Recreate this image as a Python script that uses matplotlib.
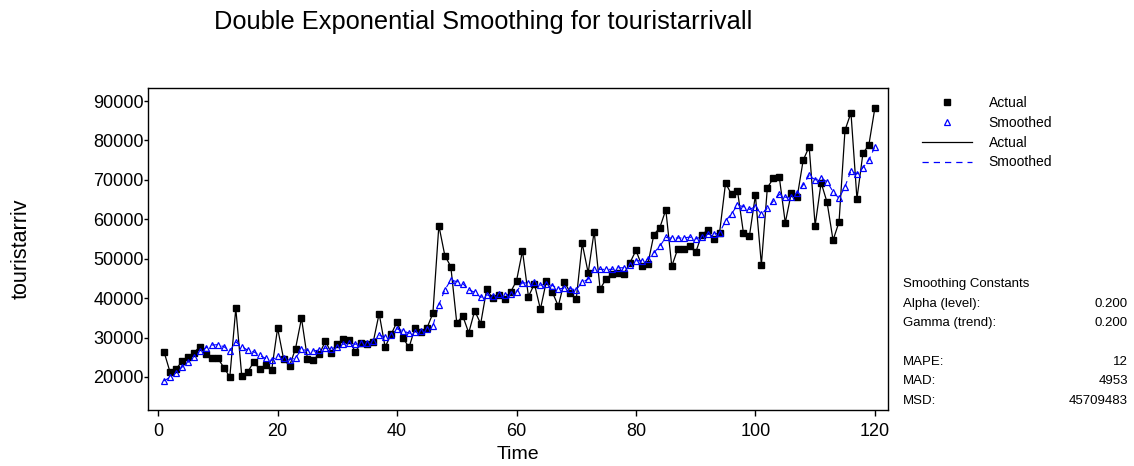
import matplotlib
matplotlib.use("Agg")
import matplotlib.pyplot as plt
from matplotlib.lines import Line2D

plt.rcParams['font.family'] = ['Liberation Sans', 'DejaVu Sans']

# values
time = list(range(1, 121))

actual = [
    26300, 21200, 22000, 24000, 25000, 26200, 27700, 25800, 24900, 24700,
    22400, 20000, 37400, 20200, 21300, 23800, 22000, 23000, 21700, 32400,
    24600, 22800, 27200, 34900, 24600, 24400, 25800, 29100, 26100, 28400,
    29600, 29300, 26400, 28500, 28300, 28800, 36100, 27600, 30800, 34000,
    29900, 27500, 32400, 31350, 32400, 36150, 58400, 50800, 48000, 33700,
    35500, 31200, 36800, 33500, 42200, 40000, 40800, 39700, 41500, 44400,
    52000, 40400, 43600, 37200, 44300, 41500, 38000, 44200, 41400, 39700,
    53900, 46400, 56900, 42300, 44900, 46200, 46400, 46200, 49000, 52100,
    48200, 48700, 56100, 57900, 62400, 48100, 52500, 52500, 53200, 51600,
    56000, 57300, 54900, 56600, 69200, 66300, 67200, 56500, 55800, 66100,
    48500, 68000, 70400, 70700, 59100, 66600, 65700, 75000, 78400, 58400,
    69300, 64300, 54700, 59300, 82600, 87000, 65200, 76700, 78900, 88200,
]

smoothed = [
    19000, 20000, 21100, 22500, 23700, 25150, 26600, 27400, 28100, 28200,
    27700, 26600, 28900, 27700, 26800, 26400, 25500, 24700, 24200, 25300,
    24900, 24400, 24800, 27000, 26700, 26600, 26850, 27300, 27200, 27700,
    28300, 28550, 28300, 28700, 28700, 29100, 30550, 30200, 30550, 32200,
    31750, 31100, 31350, 31600, 32100, 33000, 38300, 42100, 44600, 44200,
    43700, 42100, 41500, 40200, 40800, 40550, 40970, 40800, 41050, 41600,
    43900, 43800, 44000, 43300, 43500, 43200, 42300, 42600, 42400, 42100,
    44100, 44800, 47300, 47300, 47300, 47300, 47700, 47700, 48400, 49500,
    49500, 49900, 51500, 53200, 55400, 55200, 55250, 55250, 55500, 55000,
    55600, 56200, 56200, 56600, 59600, 61400, 63600, 63200, 62500, 63200,
    61300, 62800, 64600, 66300, 65600, 65600, 66600, 68700, 71200, 70000,
    70400, 69500, 67000, 65300, 68300, 72300, 71500, 73100, 75000, 78400,
]

x_ticks = [0, 20, 40, 60, 80, 100, 120]
y_ticks = [20000, 30000, 40000, 50000, 60000, 70000, 80000, 90000]

stats_labels = ['Alpha (level):', 'Gamma (trend):', '', 'MAPE:', 'MAD:', 'MSD:']
stats_values = ['0.200', '0.200', '', '12', '4953', '45709483']

fig = plt.figure(figsize=(11.34, 4.66), dpi=100)
ax = fig.add_axes([148 / 1134, 1 - 410 / 466, 740 / 1134, 322 / 466])

ax.plot(time, actual, color='black', lw=0.9, zorder=2)
ax.plot(time, actual, ls='none', marker='s', ms=5, color='black', zorder=3)
ax.plot(time, smoothed, color='blue', lw=0.8, ls=(0, (5, 4)), zorder=2)
ax.plot(time, smoothed, ls='none', marker='^', ms=5, mfc='none', mec='blue',
        mew=0.9, zorder=4)

ax.set_xlim(-1.7, 122.2)
ax.set_ylim(11630, 93300)
ax.set_xticks(x_ticks)
ax.set_yticks(y_ticks)
ax.tick_params(direction='out', labelsize=13, width=1)
ax.tick_params(axis='x', length=4, pad=5)
ax.tick_params(axis='y', length=3, pad=0)
for s in ax.spines.values():
    s.set_linewidth(1)

ax.set_xlabel('Time', fontsize=14, labelpad=5)
ax.set_ylabel('touristarriv', fontsize=15.5)
ax.yaxis.set_label_coords(-0.157, 0.5)

fig.text(483 / 1134, 1 - 22 / 466, 'Double Exponential Smoothing for touristarrivall',
         ha='center', va='center', fontsize=18.3)

# legend drawn on the right side
handles = [
    Line2D([], [], ls='none', marker='s', ms=4.5, color='black'),
    Line2D([], [], ls='none', marker='^', ms=5, mfc='none', mec='blue', mew=0.9),
    Line2D([], [], color='black', lw=0.9),
    Line2D([], [], color='blue', lw=0.9, ls=(0, (5, 4))),
]
fig.legend(handles, ['Actual', 'Smoothed', 'Actual', 'Smoothed'],
           loc='upper left', bbox_to_anchor=(915 / 1134, 1 - 89 / 466),
           frameon=False, fontsize=10, handlelength=3.6, labelspacing=0.42,
           handletextpad=1.2, borderpad=0)

fig.text(903 / 1134, 1 - 284 / 466, 'Smoothing Constants', ha='left', va='center',
         fontsize=9.5)
y0 = 304
for i, (lab, val) in enumerate(zip(stats_labels, stats_values)):
    yy = 1 - (y0 + i * 19.3) / 466
    fig.text(903 / 1134, yy, lab, ha='left', va='center', fontsize=9.5)
    fig.text(1128 / 1134, yy, val, ha='right', va='center', fontsize=9.5)

fig.savefig('out.png', dpi=100)
